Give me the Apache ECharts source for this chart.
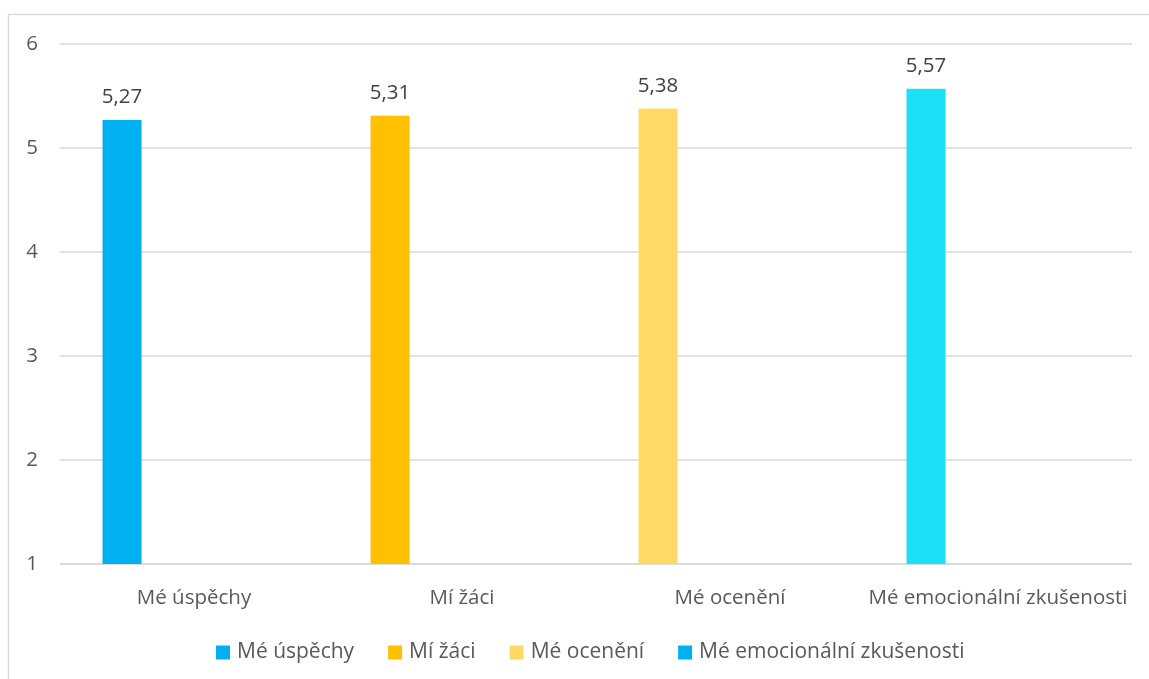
<!DOCTYPE html>
<html>
<head>
<meta charset="utf-8">
<script src="https://cdn.jsdelivr.net/npm/echarts@6/dist/echarts.min.js"></script>
<style>html,body{margin:0;padding:0;background:#fff}#c{width:1149px;height:679px}</style>
</head>
<body>
<div id="c"></div>
<script>
const categories = ['Mé úspěchy', 'Mí žáci', 'Mé ocenění', 'Mé emocionální zkušenosti'];
const seriesNames = ['Mé úspěchy', 'Mí žáci', 'Mé ocenění', 'Mé emocionální zkušenosti'];
const values = [5.27, 5.31, 5.38, 5.57];
const barColors = ['#00B0F0', '#FFC000', '#FFD966', '#1ADFF5'];
const legendColors = ['#00B0F0', '#FFC000', '#FFD966', '#00B0F0'];
const yTicks = [1, 2, 3, 4, 5, 6];

const FONT = 'Open Sans';
const TXT = '#595959';
const FS = 20.5;

const chart = echarts.init(document.getElementById('c'), null, {renderer: 'canvas'});

const series = seriesNames.map((name, si) => ({
  name: name,
  type: 'bar',
  barWidth: 39,
  barGap: '23%',
  itemStyle: {color: legendColors[si]},
  label: {
    show: true, position: 'top', distance: 12,
    color: '#404040', fontFamily: FONT, fontSize: FS,
    formatter: p => String(p.value).replace('.', ',')
  },
  data: si === 0
    ? values.map((v, i) => ({value: v, itemStyle: {color: barColors[i]}}))
    : values.map(() => null)
}));

chart.setOption({
  animation: false,
  textStyle: {fontFamily: FONT},
  graphic: [{
    type: 'rect', silent: true, z: -1,
    shape: {x: 8.5, y: 14.5, width: 1200, height: 700},
    style: {fill: 'none', stroke: '#D9D9D9', lineWidth: 1.5}
  }],
  grid: {left: 60, right: 17, top: 44, bottom: 115, containLabel: false},
  legend: {
    top: 637, left: 211,
    itemWidth: 14, itemHeight: 14, itemGap: 34,
    icon: 'rect',
    textStyle: {color: TXT, fontSize: 21, fontFamily: FONT, padding: [0, 0, 0, 2]},
    data: seriesNames.map((n, i) => ({name: n, itemStyle: {color: legendColors[i]}}))
  },
  xAxis: {
    type: 'category', data: categories,
    axisLine: {lineStyle: {color: '#D9D9D9', width: 1.5}},
    axisTick: {show: false},
    axisLabel: {color: TXT, fontSize: FS, fontFamily: FONT, margin: 24, interval: 0}
  },
  yAxis: {
    type: 'value', min: 1, max: 6, interval: 1,
    axisLine: {show: false}, axisTick: {show: false},
    splitLine: {lineStyle: {color: '#D9D9D9', width: 1.5}},
    axisLabel: {color: TXT, fontSize: FS, fontFamily: FONT, margin: 22,
      formatter: v => yTicks.includes(v) ? String(v) : ''}
  },
  series: series
});
</script>
</body>
</html>
